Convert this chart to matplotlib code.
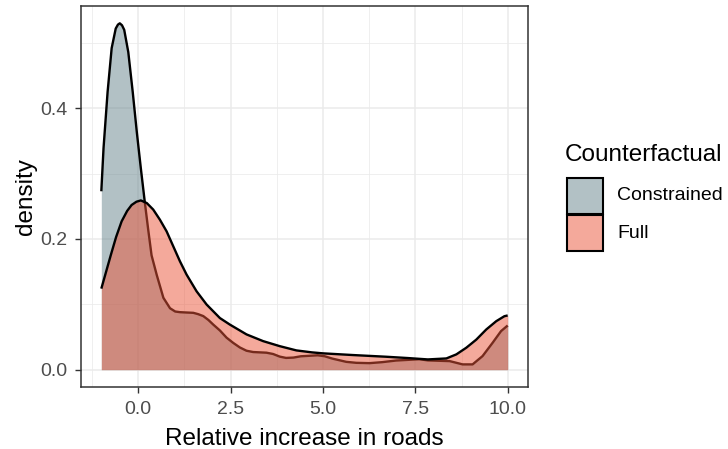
import numpy as np
import matplotlib.pyplot as plt
from matplotlib.patches import Rectangle

plt.rcParams['font.family'] = ['Liberation Sans', 'DejaVu Sans']

# density curves
constrained_x = [-1.0, -0.94, -0.83, -0.72, -0.61, -0.55, -0.50, -0.44, -0.38, -0.27,
                 -0.15, -0.04, 0.07, 0.18, 0.27, 0.36, 0.50, 0.68, 0.86, 1.0, 1.13,
                 1.3, 1.49, 1.62, 1.76, 1.9, 2.03, 2.21, 2.39, 2.57, 2.75, 2.93, 3.11,
                 3.47, 3.65, 3.83, 4.0, 4.2, 4.4, 4.86, 5.05, 5.25, 5.63, 5.9, 6.26,
                 6.6, 6.98, 7.61, 7.84, 8.1, 8.43, 8.78, 9.05, 9.32, 9.59, 9.82, 10.0]
constrained_y = [0.273, 0.339, 0.425, 0.492, 0.522, 0.528, 0.530, 0.527, 0.520, 0.486,
                 0.425, 0.364, 0.308, 0.255, 0.214, 0.175, 0.145, 0.110, 0.094, 0.089, 0.088,
                 0.0875, 0.087, 0.085, 0.082, 0.076, 0.069, 0.060, 0.049, 0.041, 0.034, 0.029, 0.027,
                 0.026, 0.024, 0.020, 0.018, 0.0185, 0.0205, 0.022, 0.0205, 0.017, 0.012, 0.0105, 0.010,
                 0.0115, 0.014, 0.016, 0.0142, 0.0137, 0.0131, 0.0081, 0.0081, 0.0208, 0.041, 0.059, 0.0676]

full_x = [-1.0, -0.87, -0.74, -0.6, -0.45, -0.3, -0.18, -0.05, 0.07, 0.23, 0.405,
          0.586, 0.768, 0.946, 1.127, 1.308, 1.578, 1.85, 2.21, 2.48, 2.93, 3.38,
          3.83, 4.28, 4.7, 5.0, 5.81, 6.71, 7.3, 7.84, 8.34, 8.61, 8.88, 9.15,
          9.42, 9.69, 9.91, 10.0]
full_y = [0.124, 0.150, 0.176, 0.203, 0.227, 0.243, 0.252, 0.257, 0.259, 0.255, 0.245,
          0.2295, 0.2116, 0.189, 0.166, 0.1455, 0.120, 0.0997, 0.079, 0.069, 0.054, 0.0437,
          0.036, 0.0295, 0.0265, 0.025, 0.0224, 0.0198, 0.0178, 0.0157, 0.0172, 0.0234, 0.0336, 0.046,
          0.0615, 0.0742, 0.0818, 0.083]

groups = ['Constrained', 'Full']
colors = ['#67858D', '#EB5539']

W, H = 728, 449
fig = plt.figure(figsize=(W / 100, H / 100), dpi=100)
ax = fig.add_axes([81 / W, 1 - 387 / H, (528 - 81) / W, (387 - 6) / H])

series = [(constrained_x, constrained_y), (full_x, full_y)]
z = 3
for (xs, ys), c in zip(series, colors):
    ax.fill_between(xs, 0, ys, color=c, alpha=0.5, lw=0, zorder=z)
    ax.plot(xs, ys, color='black', lw=1.7, zorder=z + 0.5,
            solid_capstyle='butt', solid_joinstyle='round')
    z += 1

ax.set_xlim(-1.55, 10.55)
ax.set_ylim(-0.0265, 0.5565)
ax.set_xticks([0, 2.5, 5, 7.5, 10])
ax.set_xticklabels(['0.0', '2.5', '5.0', '7.5', '10.0'])
ax.set_yticks([0, 0.2, 0.4])
ax.set_yticklabels(['0.0', '0.2', '0.4'])
ax.set_xticks([-1.25, 1.25, 3.75, 6.25, 8.75], minor=True)
ax.set_yticks([0.1, 0.3, 0.5], minor=True)
ax.grid(True, which='major', color='#EBEBEB', lw=1.1, zorder=0)
ax.grid(True, which='minor', color='#EBEBEB', lw=0.55, zorder=0)
ax.set_axisbelow(True)
ax.tick_params(which='major', length=4, width=1.0, color='#333333',
               labelsize=14, labelcolor='#4D4D4D', pad=6)
ax.tick_params(which='minor', length=0)
for s in ax.spines.values():
    s.set_color('#333333')
    s.set_linewidth(1.1)

ax.set_xlabel('Relative increase in roads', fontsize=17.5, labelpad=7)
ax.set_ylabel('density', fontsize=17.5, labelpad=2)

# legend drawn by hand
def px(x, y):
    return x / W, 1 - y / H

fig.text(*px(565, 155), 'Counterfactual', fontsize=17.5, va='center', ha='left')
key_tops = [178, 215]
for top, lab, c in zip(key_tops, groups, colors):
    x0, y0 = px(567, top + 36)
    fig.add_artist(Rectangle((x0, y0), 36 / W, 36 / H, transform=fig.transFigure,
                             facecolor='white', edgecolor='none'))
    fig.add_artist(Rectangle((x0, y0), 36 / W, 36 / H, transform=fig.transFigure,
                             facecolor=c, alpha=0.5, edgecolor='none'))
    fig.add_artist(Rectangle((x0, y0), 36 / W, 36 / H, transform=fig.transFigure,
                             facecolor='none', edgecolor='black', lw=1.5))
    fig.text(*px(617, top + 18), lab, fontsize=14, va='center', ha='left')

fig.savefig('out.png', dpi=100)
